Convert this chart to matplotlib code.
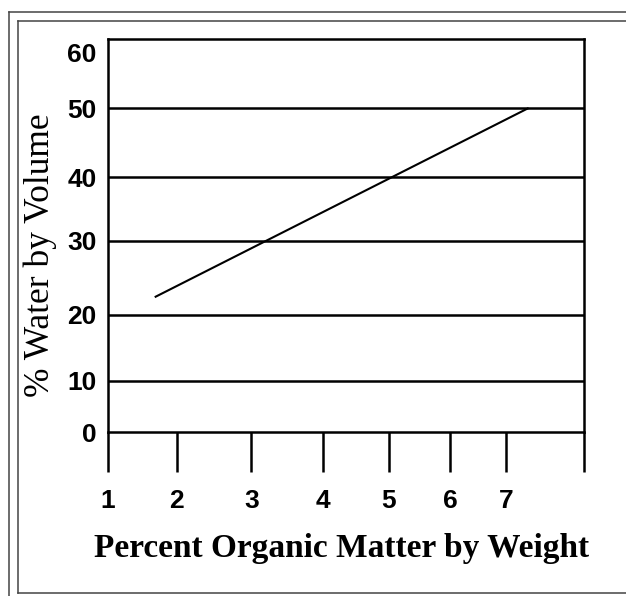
import numpy as np
import matplotlib
matplotlib.use("Agg")
import matplotlib.pyplot as plt
from matplotlib.lines import Line2D

# axis values and where the hand-drawn figure puts them (pixels)
x_values = [1, 2, 3, 4, 5, 6, 7, 8]
x_pixels = [107.8, 176.8, 251.5, 323, 389, 450, 506, 584]
x_labels = ['1', '2', '3', '4', '5', '6', '7', '']

y_values = [0, 10, 20, 30, 40, 50, 60, 62.5]
y_pixels = [164, 215, 281, 355.3, 419, 488, 543, 557]   # from the bottom
y_ticks = [0, 10, 20, 30, 40, 50, 60]
grid_values = [10, 20, 30, 40, 50]

# the trend line
line_x = [1.68, 7.29]
line_y = [22.4, 50]

W, H = 626, 596
fig = plt.figure(figsize=(W / 100, H / 100), dpi=100)
ax = fig.add_axes([x_pixels[0] / W, y_pixels[0] / H,
                   (x_pixels[-1] - x_pixels[0]) / W,
                   (y_pixels[-1] - y_pixels[0]) / H])

ax.set_xscale('function', functions=(lambda v: np.interp(v, x_values, x_pixels),
                                     lambda p: np.interp(p, x_pixels, x_values)))
ax.set_yscale('function', functions=(lambda v: np.interp(v, y_values, y_pixels),
                                     lambda p: np.interp(p, y_pixels, y_values)))
ax.set_xlim(x_values[0], x_values[-1])
ax.set_ylim(y_values[0], y_values[-1])

for v in grid_values:
    ax.axhline(v, color='black', lw=1.8)

ax.plot(line_x, line_y, color='black', lw=1.5, solid_capstyle='butt')

for s in ax.spines.values():
    s.set_linewidth(1.8)
    s.set_color('black')

ax.set_xticks(x_values)
ax.set_xticklabels(x_labels)
ax.set_yticks(y_ticks)
ax.set_yticklabels([str(v) for v in y_ticks])
ax.xaxis.set_minor_locator(matplotlib.ticker.NullLocator())
ax.yaxis.set_minor_locator(matplotlib.ticker.NullLocator())
ax.tick_params(axis='x', direction='out', length=29, width=1.8, pad=12)
ax.tick_params(axis='y', length=0, pad=8)
for lab in ax.get_xticklabels() + ax.get_yticklabels():
    lab.set_fontfamily('Liberation Sans')
    lab.set_fontweight('bold')
    lab.set_fontsize(19)

fig.text(40 / W, 1 - 255 / H, '% Water by Volume', rotation=90,
         ha='center', va='center', family='Liberation Serif', fontsize=25.5)
fig.text(342 / W, 1 - 548 / H, 'Percent Organic Matter by Weight',
         ha='center', va='center', family='Liberation Serif',
         fontweight='bold', fontsize=24)

# double frame around the figure
frame = '#444444'
for x0, y0 in [(9, 12), (17.5, 21)]:
    fig.add_artist(Line2D([x0 / W, x0 / W], [0 if x0 < 10 else 1 - 593 / H, 1 - y0 / H],
                          transform=fig.transFigure, color=frame, lw=1.1))
    fig.add_artist(Line2D([x0 / W, 1], [1 - y0 / H, 1 - y0 / H],
                          transform=fig.transFigure, color=frame, lw=1.1))
fig.add_artist(Line2D([17.5 / W, 1], [1 - 593 / H, 1 - 593 / H],
                      transform=fig.transFigure, color=frame, lw=1.1))

fig.savefig('out.png', dpi=100)
